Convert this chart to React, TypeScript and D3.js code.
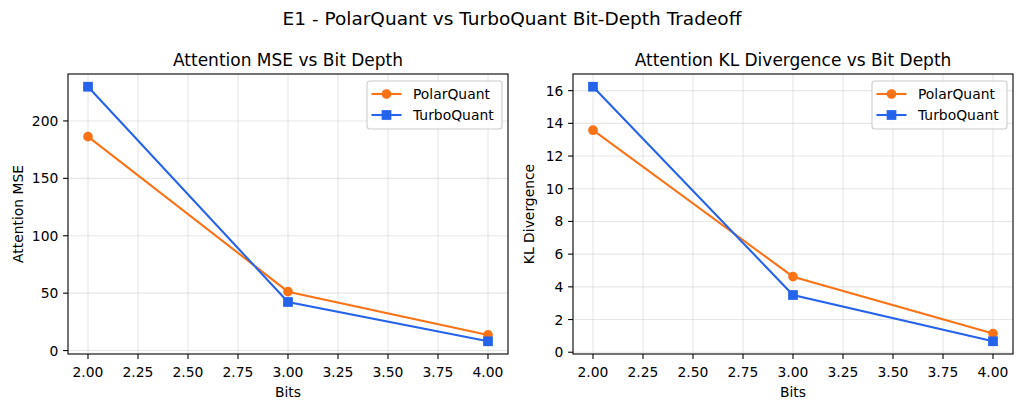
import React from "react";
import * as d3 from "d3";

const bits = [2, 3, 4];
const polarMSE = [186.3, 51.3, 13.6];
const turboMSE = [229.8, 42.3, 8.1];
const polarKL = [13.58, 4.62, 1.14];
const turboKL = [16.24, 3.5, 0.67];
const xTicks = [2.0, 2.25, 2.5, 2.75, 3.0, 3.25, 3.5, 3.75, 4.0];
const mseTicks = [0, 50, 100, 150, 200];
const klTicks = [0, 2, 4, 6, 8, 10, 12, 14, 16];
const seriesNames = ["PolarQuant", "TurboQuant"];

const ORANGE = "#f97316";
const BLUE = "#2563eb";
const FONT = "DejaVu Sans, sans-serif";

type PanelProps = {
  x0: number;
  x1: number;
  y0: number;
  y1: number;
  title: string;
  ylabel: string;
  ylabelX: number;
  polar: number[];
  turbo: number[];
  yTicks: number[];
};

function Panel({ x0, x1, y0, y1, title, ylabel, ylabelX, polar, turbo, yTicks }: PanelProps) {
  const xs = d3.scaleLinear().domain([1.9, 4.1]).range([x0, x1]);
  const all = [...polar, ...turbo];
  const mn = d3.min(all) as number;
  const mx = d3.max(all) as number;
  const pad = (mx - mn) * 0.05;
  const ys = d3.scaleLinear().domain([mn - pad, mx + pad]).range([y1, y0]);
  const line = d3
    .line<number>()
    .x((_, i) => xs(bits[i]))
    .y((d) => ys(d));
  const fmtX = d3.format(".2f");
  const ms = 8.3;
  const mew = 1.39;

  const legW = 135;
  const legH = 48;
  const legX = x1 - 6 - legW;
  const legY = y0 + 7;

  const circle = (cx: number, cy: number, color: string, key: string) => (
    <circle key={key} cx={cx} cy={cy} r={ms / 2} fill={color} stroke={color} strokeWidth={mew} />
  );
  const square = (cx: number, cy: number, color: string, key: string) => (
    <rect key={key} x={cx - ms / 2} y={cy - ms / 2} width={ms} height={ms} fill={color} stroke={color} strokeWidth={mew} />
  );

  return (
    <g>
      {xTicks.map((t) => (
        <line key={"gx" + t} x1={xs(t)} x2={xs(t)} y1={y0} y2={y1} stroke="#b0b0b0" strokeOpacity={0.3} strokeWidth={1.1} />
      ))}
      {yTicks.map((t) => (
        <line key={"gy" + t} x1={x0} x2={x1} y1={ys(t)} y2={ys(t)} stroke="#b0b0b0" strokeOpacity={0.3} strokeWidth={1.1} />
      ))}
      <path d={line(polar) || ""} fill="none" stroke={ORANGE} strokeWidth={2.08} />
      {polar.map((v, i) => circle(xs(bits[i]), ys(v), ORANGE, "pc" + i))}
      <path d={line(turbo) || ""} fill="none" stroke={BLUE} strokeWidth={2.08} />
      {turbo.map((v, i) => square(xs(bits[i]), ys(v), BLUE, "tr" + i))}
      <rect x={x0} y={y0} width={x1 - x0} height={y1 - y0} fill="none" stroke="#000" strokeWidth={1.1} />
      {xTicks.map((t) => (
        <g key={"xt" + t}>
          <line x1={xs(t)} x2={xs(t)} y1={y1} y2={y1 + 4.9} stroke="#000" strokeWidth={1.1} />
          <text x={xs(t)} y={y1 + 23} textAnchor="middle" fontSize={13.89} fontFamily={FONT} fill="#000">
            {fmtX(t)}
          </text>
        </g>
      ))}
      {yTicks.map((t) => (
        <g key={"yt" + t}>
          <line x1={x0 - 4.9} x2={x0} y1={ys(t)} y2={ys(t)} stroke="#000" strokeWidth={1.1} />
          <text x={x0 - 9.7} y={ys(t) + 5} textAnchor="end" fontSize={13.89} fontFamily={FONT} fill="#000">
            {t}
          </text>
        </g>
      ))}
      <text x={(x0 + x1) / 2} y={y1 + 43} textAnchor="middle" fontSize={13.89} fontFamily={FONT} fill="#000">
        Bits
      </text>
      <text
        transform={`translate(${ylabelX},${(y0 + y1) / 2}) rotate(-90)`}
        textAnchor="middle"
        fontSize={13.89}
        fontFamily={FONT}
        fill="#000"
      >
        {ylabel}
      </text>
      <text x={(x0 + x1) / 2} y={y0 - 8.5} textAnchor="middle" fontSize={17} fontFamily={FONT} fill="#000">
        {title}
      </text>
      <rect x={legX} y={legY} width={legW} height={legH} rx={3} ry={3} fill="#fff" fillOpacity={0.8} stroke="#cccccc" strokeWidth={1.1} />
      {seriesNames.map((name, i) => {
        const cy = legY + 13 + i * 21;
        const color = i === 0 ? ORANGE : BLUE;
        const hx0 = legX + 4.5;
        const hx1 = legX + 34.5;
        const hc = (hx0 + hx1) / 2;
        return (
          <g key={name}>
            <line x1={hx0} x2={hx1} y1={cy} y2={cy} stroke={color} strokeWidth={2.08} />
            {i === 0 ? circle(hc, cy, color, "lc") : square(hc, cy, color, "ls")}
            <text x={legX + 46} y={cy + 5} fontSize={13.89} fontFamily={FONT} fill="#000">
              {name}
            </text>
          </g>
        );
      })}
    </g>
  );
}

export default function App() {
  return (
    <svg
      width={1024}
      height={410}
      viewBox="0 0 1024 410"
      style={{ position: "absolute", left: 0, top: 0, background: "#fff" }}
    >
      <rect x={0} y={0} width={1024} height={410} fill="#fff" />
      <text x={512} y={24.5} textAnchor="middle" fontSize={18.5} fontFamily={FONT} fill="#000">
        E1 - PolarQuant vs TurboQuant Bit-Depth Tradeoff
      </text>
      <Panel
        x0={68}
        x1={508}
        y0={74}
        y1={354}
        title="Attention MSE vs Bit Depth"
        ylabel="Attention MSE"
        ylabelX={22.5}
        polar={polarMSE}
        turbo={turboMSE}
        yTicks={mseTicks}
      />
      <Panel
        x0={573}
        x1={1013}
        y0={74}
        y1={354}
        title="Attention KL Divergence vs Bit Depth"
        ylabel="KL Divergence"
        ylabelX={533.5}
        polar={polarKL}
        turbo={turboKL}
        yTicks={klTicks}
      />
    </svg>
  );
}
